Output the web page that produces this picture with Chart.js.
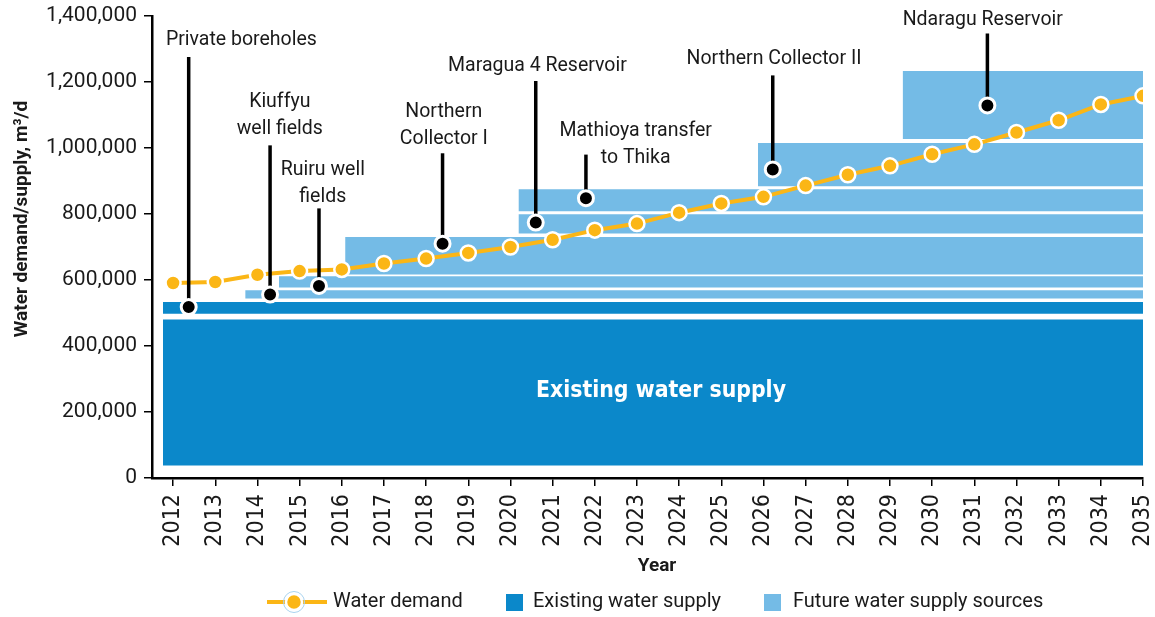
<!DOCTYPE html>
<html>
<head>
<meta charset="utf-8">
<title>Water demand and supply</title>
<script src="https://cdn.jsdelivr.net/npm/chart.js@4.4.1/dist/chart.umd.min.js"></script>
<style>
  html, body { margin: 0; padding: 0; background: #fff; }
  #wrap { width: 1155px; height: 617px; position: relative; }
</style>
</head>
<body>
<div id="wrap"><canvas id="waterChart"></canvas></div>
<script>
// ---- data ----
const years = [2012, 2013, 2014, 2015, 2016, 2017, 2018, 2019, 2020, 2021, 2022, 2023,
               2024, 2025, 2026, 2027, 2028, 2029, 2030, 2031, 2032, 2033, 2034, 2035];
const demand = [591000, 594000, 616000, 627000, 632000, 650000, 665000, 682000, 700000, 722000, 751000, 771000,
                804000, 832000, 852000, 886000, 919000, 946000, 981000, 1011000, 1047000, 1084000, 1132000, 1158000];

// existing supply bands: main block and private boreholes
const existingStart = [2011.76, 2011.76];
const existingLow = [38000, 498000];
const existingHigh = [480000, 533000];

// future supply sources, bottom to top
const futureNames = ['Kiuffyu well fields', 'Ruiru well fields', 'Northern Collector I', 'Maragua 4 Reservoir',
                     'Mathioya transfer to Thika', 'Northern Collector II', 'Ndaragu Reservoir'];
const futureStart = [2013.71, 2014.51, 2016.08, 2020.19, 2020.19, 2025.87, 2029.30];
const futureLow = [544000, 577000, 617000, 741000, 808000, 884000, 1027000];
const futureHigh = [569000, 611000, 730000, 799000, 875000, 1015000, 1233000];
const supplyEnd = 2035;

// project markers
const projectYear = [2012.37, 2014.30, 2015.46, 2018.39, 2020.60, 2021.79, 2026.22, 2031.31];
const projectValue = [518000, 556000, 582000, 710000, 774000, 848000, 935000, 1129000];

// callout text + where it sits (data units)
const callouts = [
  { lines: ['Private boreholes'], top: 1276000, x: 2013.62, y: 1332000 },
  { lines: ['Kiuffyu', 'well fields'], top: 1008000, x: 2014.53, y: 1145000 },
  { lines: ['Ruiru well', 'fields'], top: 817000, x: 2015.55, y: 938000 },
  { lines: ['Northern', 'Collector I'], top: 984000, x: 2018.42, y: 1114000 },
  { lines: ['Maragua 4 Reservoir'], top: 1203000, x: 2020.64, y: 1254000 },
  { lines: ['Mathioya transfer', 'to Thika'], top: 980000, x: 2022.97, y: 1057000 },
  { lines: ['Northern Collector II'], top: 1220000, x: 2026.25, y: 1275000 },
  { lines: ['Ndaragu Reservoir'], top: 1347000, x: 2031.20, y: 1393000 }
];

const darkBlue = '#0b88ca';
const lightBlue = '#74bbe6';
const orange = '#fbb616';
const ink = '#1a1a1a';

function band(start, low, high, color) {
  return {
    data: [{ x: start, y: high }, { x: supplyEnd, y: high }],
    fill: { value: low },
    backgroundColor: color,
    borderColor: 'rgba(0,0,0,0)',
    borderWidth: 0,
    pointRadius: 0,
    order: 2
  };
}

const datasets = [];
existingStart.forEach((s, i) => datasets.push(band(s, existingLow[i], existingHigh[i], darkBlue)));
futureStart.forEach((s, i) => datasets.push(band(s, futureLow[i], futureHigh[i], lightBlue)));

const demandIndex = datasets.length;
datasets.push({
  label: 'Water demand',
  data: years.map((y, i) => ({ x: y, y: demand[i] })),
  borderColor: orange,
  borderWidth: 4,
  backgroundColor: orange,
  pointRadius: 7.5,
  pointBorderColor: '#fff',
  pointBorderWidth: 2.5,
  pointBackgroundColor: orange,
  fill: false,
  order: 1
});
datasets.push({
  label: 'Projects',
  data: projectYear.map((y, i) => ({ x: y, y: projectValue[i] })),
  showLine: false,
  pointRadius: 7.5,
  pointBackgroundColor: '#000',
  pointBorderColor: '#fff',
  pointBorderWidth: 3,
  fill: false,
  order: 0
});

const overlay = {
  id: 'overlay',
  afterDatasetDraw(chart, args) {
    if (args.index !== demandIndex) return;
    const { ctx, scales: { x, y } } = chart;
    // leader lines sit over the demand line, under the markers
    ctx.save();
    ctx.strokeStyle = '#000';
    ctx.lineWidth = 3.5;
    callouts.forEach((c, i) => {
      const px = x.getPixelForValue(projectYear[i]);
      ctx.beginPath();
      ctx.moveTo(px, y.getPixelForValue(projectValue[i]));
      ctx.lineTo(px, y.getPixelForValue(c.top));
      ctx.stroke();
    });
    ctx.restore();
  },
  afterDraw(chart) {
    const { ctx, scales: { x, y } } = chart;
    ctx.save();
    ctx.fillStyle = ink;
    ctx.textAlign = 'center';
    ctx.textBaseline = 'middle';
    ctx.font = '19.5px Roboto';
    callouts.forEach(c => {
      const px = x.getPixelForValue(c.x);
      const py = y.getPixelForValue(c.y) + 1.5;
      c.lines.forEach((t, k) => ctx.fillText(t, px, py + k * 27));
    });

    // label inside the existing supply block, sized to ~250px wide
    const blockText = 'Existing water supply';
    ctx.fillStyle = '#fff';
    ctx.font = 'bold 26px "Liberation Sans Narrow", "DejaVu Sans Condensed", sans-serif';
    const size = Math.min(30, 26 * 250 / ctx.measureText(blockText).width);
    ctx.font = 'bold ' + size.toFixed(1) + 'px "Liberation Sans Narrow", "DejaVu Sans Condensed", sans-serif';
    ctx.fillText(blockText, x.getPixelForValue((existingStart[0] + supplyEnd) / 2) + 8,
                 y.getPixelForValue((existingLow[0] + existingHigh[0]) / 2) - 1);

    // axis titles
    ctx.fillStyle = ink;
    ctx.font = 'bold 19px Roboto';
    ctx.fillText('Year', 657, 566);
    ctx.save();
    ctx.translate(22, 219);
    ctx.rotate(-Math.PI / 2);
    ctx.fillText('Water demand/supply, m\u00b3/d', 0, 0);
    ctx.restore();

    // legend
    const ly = 602;
    ctx.strokeStyle = orange;
    ctx.lineWidth = 4;
    ctx.beginPath();
    ctx.moveTo(267, ly);
    ctx.lineTo(327, ly);
    ctx.stroke();
    ctx.beginPath();
    ctx.arc(294, ly, 10.5, 0, Math.PI * 2);
    ctx.strokeStyle = '#a9d3ef';
    ctx.lineWidth = 1;
    ctx.stroke();
    ctx.beginPath();
    ctx.arc(294, ly, 8, 0, Math.PI * 2);
    ctx.fillStyle = orange;
    ctx.fill();
    ctx.strokeStyle = '#fff';
    ctx.lineWidth = 2.5;
    ctx.stroke();
    ctx.fillStyle = darkBlue;
    ctx.fillRect(506, 594, 17, 17);
    ctx.fillStyle = lightBlue;
    ctx.fillRect(764, 594, 17, 17);
    ctx.fillStyle = ink;
    ctx.font = '20px Roboto';
    ctx.textAlign = 'left';
    ctx.fillText('Water demand', 333, ly);
    ctx.fillText('Existing water supply', 533, ly);
    ctx.fillText('Future water supply sources', 793, ly);
    ctx.restore();
  }
};

new Chart(document.getElementById('waterChart'), {
  type: 'line',
  data: { datasets: datasets },
  options: {
    responsive: true,
    maintainAspectRatio: false,
    animation: false,
    events: [],
    layout: { autoPadding: false, padding: { left: 0, right: 12, top: 16, bottom: 0 } },
    plugins: {
      legend: { display: false },
      tooltip: { enabled: false }
    },
    scales: {
      x: {
        type: 'linear',
        min: 2011.5,
        max: 2035,
        afterFit: s => { s.height = 139; s.paddingLeft = 0; s.paddingRight = 0; },
        afterBuildTicks: s => { s.ticks = years.map(v => ({ value: v })); },
        grid: { drawOnChartArea: false, color: '#000', lineWidth: 1.5, tickLength: 8 },
        border: { display: true, color: '#000', width: 2.5 },
        ticks: {
          minRotation: 90,
          maxRotation: 90,
          autoSkip: false,
          padding: 8,
          color: ink,
          font: { family: '"Liberation Sans Narrow", "DejaVu Sans Condensed", sans-serif', size: 23 },
          callback: v => String(v)
        }
      },
      y: {
        min: 0,
        max: 1400000,
        afterFit: s => { s.width = 152; s.paddingTop = 0; s.paddingBottom = 0; },
        grid: { drawOnChartArea: false, color: '#000', lineWidth: 1.5, tickLength: 8 },
        border: { display: true, color: '#000', width: 2.5 },
        ticks: {
          stepSize: 200000,
          padding: 7,
          color: ink,
          font: { family: 'Roboto', size: 21 },
          callback: v => v.toLocaleString('en-US')
        }
      }
    }
  },
  plugins: [overlay]
});
</script>
</body>
</html>
